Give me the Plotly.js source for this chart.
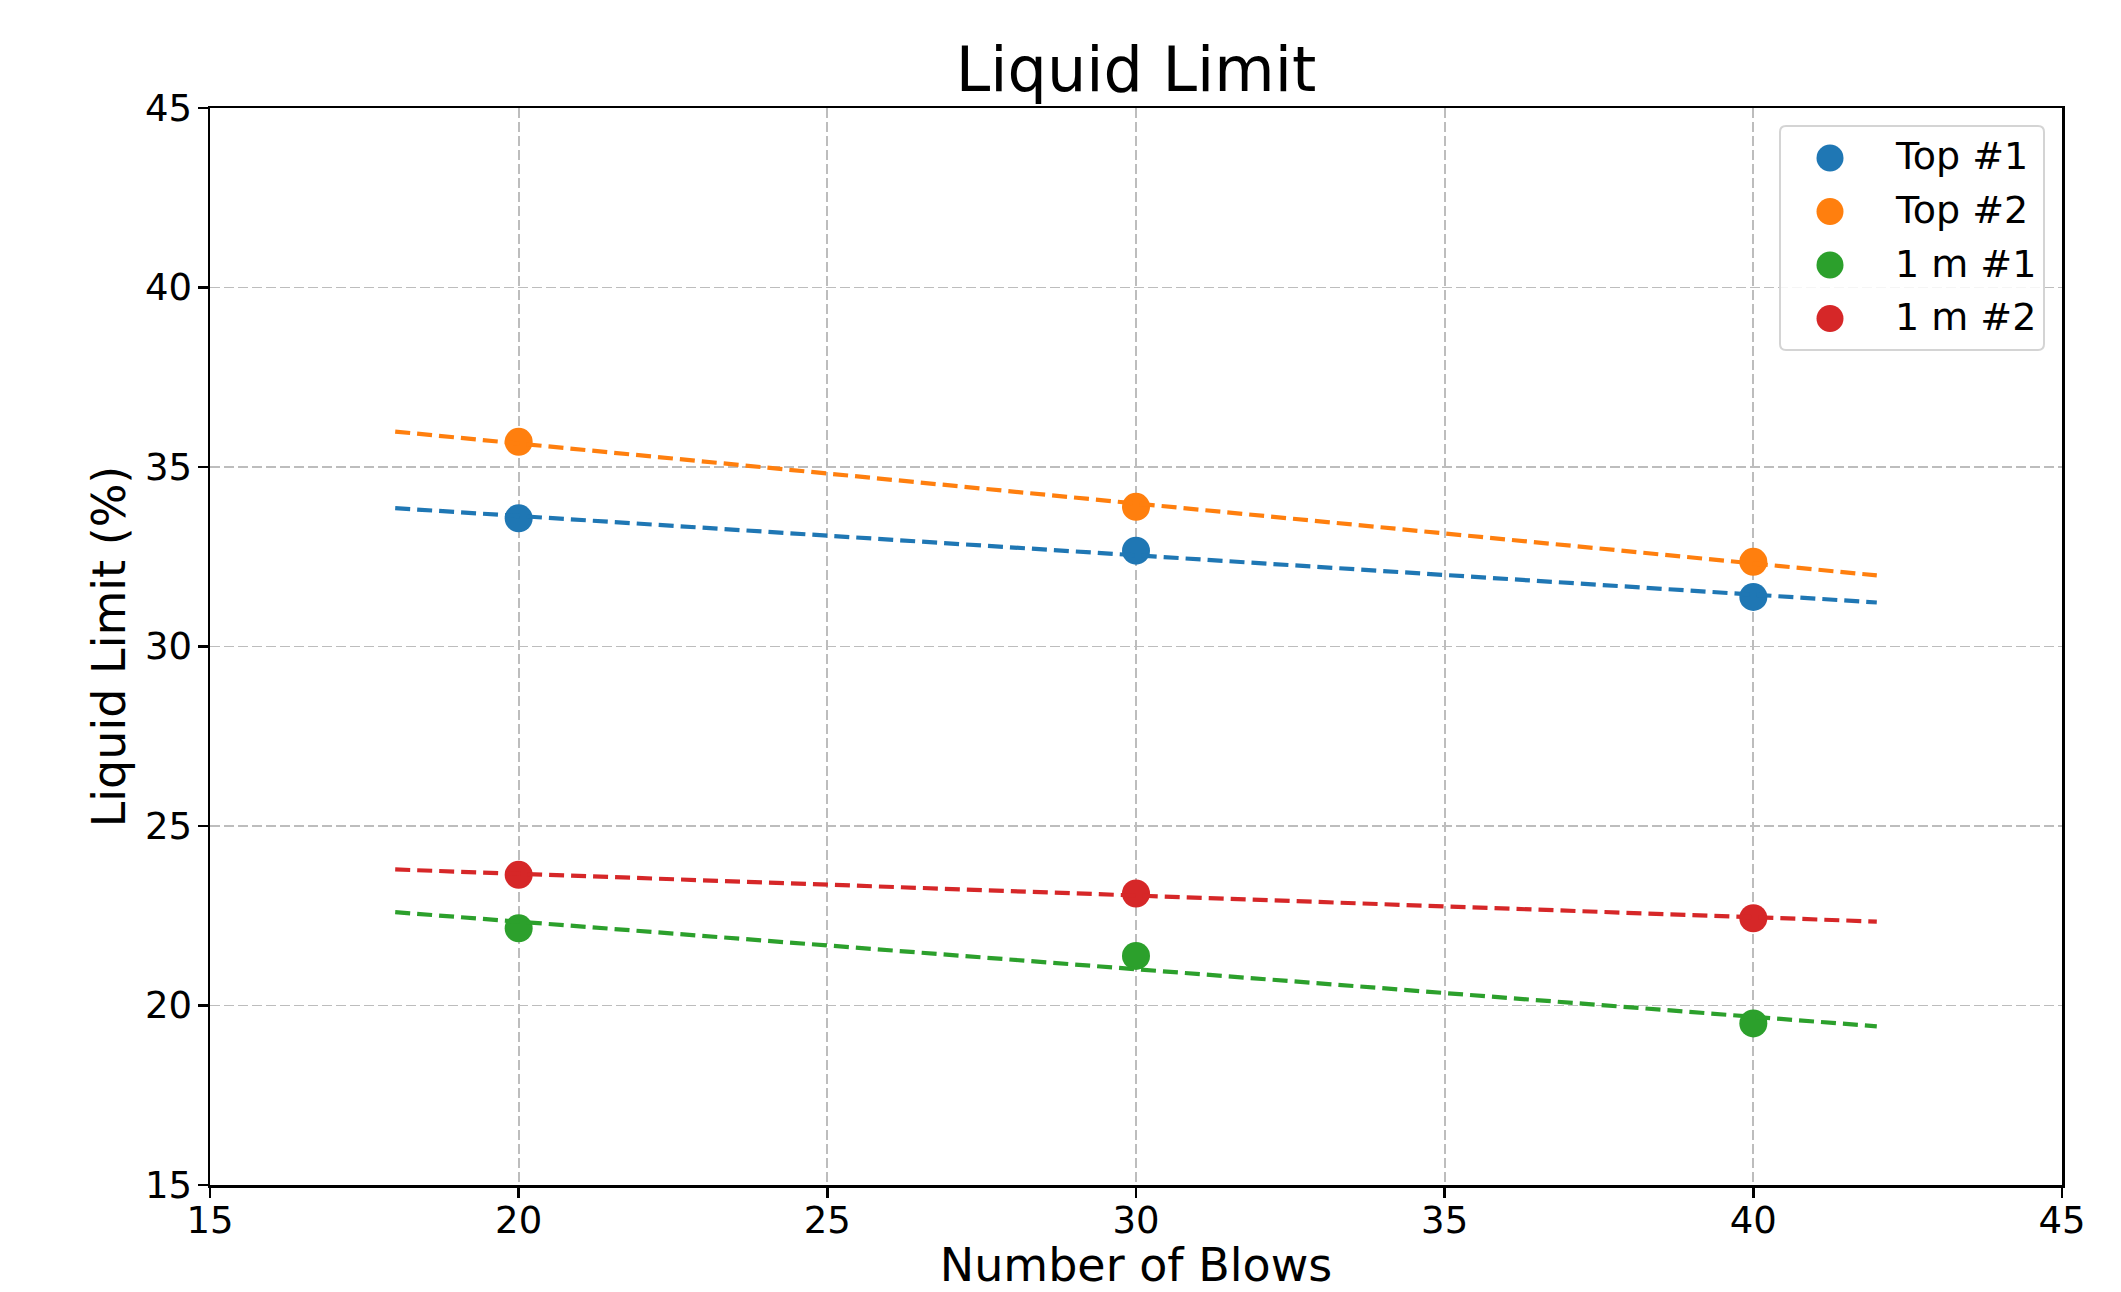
<!DOCTYPE html>
<html>
<head>
<meta charset="utf-8">
<script src="https://cdn.plot.ly/plotly-3.0.1.min.js"></script>
<style>html,body{margin:0;padding:0;background:#fff;}#chart{width:2121px;height:1292px;}</style>
</head>
<body>
<div id="chart"></div>
<script>
// Data
const blows = [20, 30, 40];
const seriesNames = ["Top #1", "Top #2", "1 m #1", "1 m #2"];
const top1 = [33.57, 32.67, 31.38];
const top2 = [35.70, 33.89, 32.36];
const oneM1 = [22.15, 21.38, 19.50];
const oneM2 = [23.64, 23.12, 22.43];
const fitRange = [18, 42];
const xTicks = [15, 20, 25, 30, 35, 40, 45];
const yTicks = [15, 20, 25, 30, 35, 40, 45];

const colors = ["#1f77b4", "#ff7f0e", "#2ca02c", "#d62728"];
const allSeries = [top1, top2, oneM1, oneM2];

function linFit(xs, ys) {
  const n = xs.length;
  const mx = xs.reduce((a, b) => a + b, 0) / n;
  const my = ys.reduce((a, b) => a + b, 0) / n;
  let sxy = 0, sxx = 0;
  for (let i = 0; i < n; i++) { sxy += (xs[i] - mx) * (ys[i] - my); sxx += (xs[i] - mx) ** 2; }
  const m = sxy / sxx;
  return x => my + m * (x - mx);
}

const font = "DejaVu Sans, Verdana, sans-serif";
const traces = [];
allSeries.forEach((ys, i) => {
  traces.push({
    x: blows, y: ys, type: "scatter", mode: "markers", name: seriesNames[i],
    marker: {color: colors[i], size: 28, line: {width: 0}}
  });
});
allSeries.forEach((ys, i) => {
  const f = linFit(blows, ys);
  traces.push({
    x: fitRange, y: fitRange.map(f), type: "scatter", mode: "lines", showlegend: false,
    line: {color: colors[i], width: 4.2, dash: "15px,7px"}, hoverinfo: "skip"
  });
});

// Plot-area geometry (pixels) used to place the hand-drawn legend
const W = 2121, H = 1292;
const M = {l: 210, r: 59, t: 108, b: 107};
const PW = W - M.l - M.r, PH = H - M.t - M.b;
const px2x = p => (p - M.l) / PW;
const py2y = p => (H - M.b - p) / PH;

const legBox = {x0: 1780, x1: 2044, y0: 126, y1: 350};
const legRowY = [156.5, 210, 263.5, 317];
const legMarkX = 1830, legTextX = 1893;

const shapes = [];
const annotations = [];
// legend frame (rounded rectangle)
const r = 6, bw = legBox.x1 - legBox.x0, bh = legBox.y1 - legBox.y0;
shapes.push({
  type: "path", xref: "paper", yref: "paper", xsizemode: "pixel", ysizemode: "pixel",
  xanchor: px2x(legBox.x0), yanchor: py2y(legBox.y0),
  path: `M ${r} 0 L ${bw - r} 0 Q ${bw} 0 ${bw} ${-r} L ${bw} ${-(bh - r)} Q ${bw} ${-bh} ${bw - r} ${-bh} L ${r} ${-bh} Q 0 ${-bh} 0 ${-(bh - r)} L 0 ${-r} Q 0 0 ${r} 0 Z`,
  fillcolor: "rgba(255,255,255,0.85)", line: {color: "#d4d4d4", width: 2}, layer: "above"
});
seriesNames.forEach((name, i) => {
  shapes.push({
    type: "circle", xref: "paper", yref: "paper", xsizemode: "pixel", ysizemode: "pixel",
    xanchor: px2x(legMarkX), yanchor: py2y(legRowY[i] + 1.5),
    x0: -13.5, x1: 13.5, y0: -13.5, y1: 13.5,
    fillcolor: colors[i], line: {width: 0}, layer: "above"
  });
  annotations.push({
    text: name, xref: "paper", yref: "paper", x: px2x(legTextX), y: py2y(legRowY[i]),
    xanchor: "left", yanchor: "middle", showarrow: false,
    font: {family: font, size: 38, color: "#000"}
  });
});

const axisCommon = {
  range: [15, 45], tickmode: "array", showline: true, linecolor: "#000", linewidth: 2.5,
  mirror: true, ticks: "outside", ticklen: 10, tickwidth: 2.5, tickcolor: "#000",
  showgrid: true, gridcolor: "#bdbdbd", gridwidth: 1.8, griddash: "10px,4px",
  zeroline: false, tickfont: {family: font, size: 37, color: "#000"}
};

const layout = {
  width: W, height: H,
  margin: M,
  paper_bgcolor: "#fff", plot_bgcolor: "#fff",
  font: {family: font, color: "#000"},
  title: {text: "Liquid Limit", font: {family: font, size: 62, color: "#000"},
          x: 0.5, xref: "paper", xanchor: "center", y: 1, yref: "paper", yanchor: "bottom",
          pad: {b: 17}},
  xaxis: Object.assign({}, axisCommon, {
    tickvals: xTicks, ticktext: xTicks.map(String), ticklabelstandoff: -9,
    title: {text: "Number of Blows", font: {family: font, size: 46, color: "#000"}, standoff: 24}
  }),
  yaxis: Object.assign({}, axisCommon, {
    tickvals: yTicks, ticktext: yTicks.map(String), ticklabelstandoff: -2,
    title: {text: "Liquid Limit (%)", font: {family: font, size: 46, color: "#000"}, standoff: 5}
  }),
  showlegend: false,
  shapes: shapes,
  annotations: annotations
};

Plotly.newPlot("chart", traces, layout, {staticPlot: true, displayModeBar: false});
</script>
</body>
</html>
